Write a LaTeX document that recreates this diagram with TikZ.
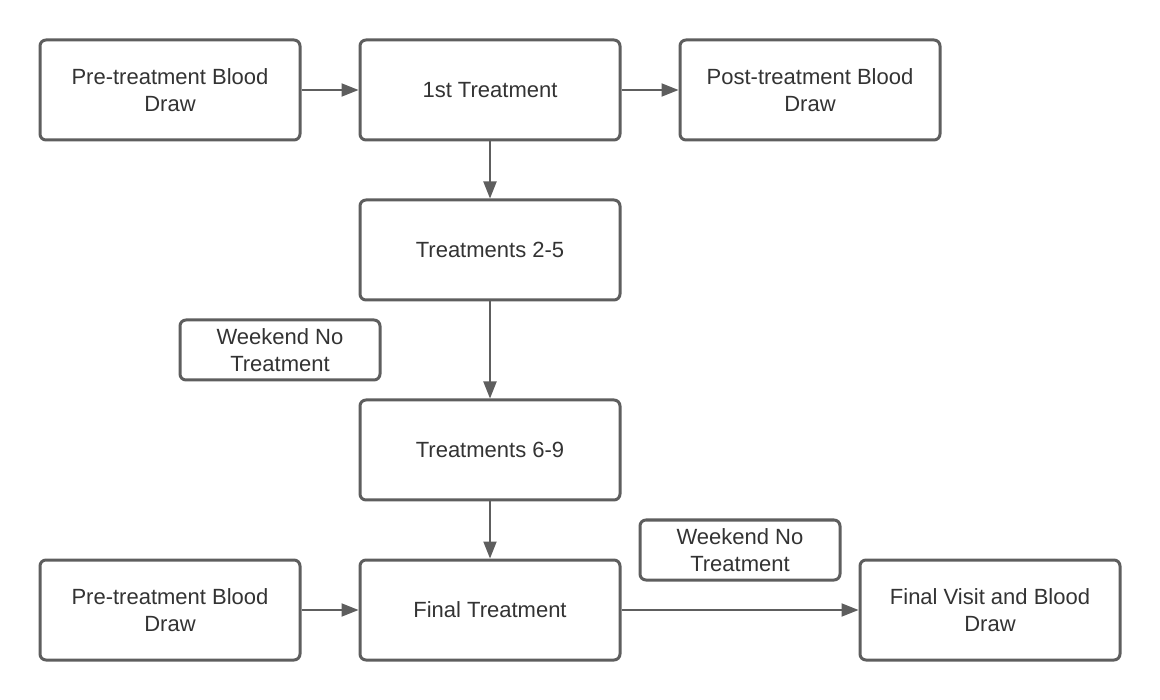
\documentclass[tikz,border=0pt]{standalone}
\usepackage{fontspec}
\setmainfont{Liberation Sans}
\usetikzlibrary{arrows.meta}
\definecolor{zline}{HTML}{5E5E5E}
\definecolor{ztext}{HTML}{333333}
\tikzset{zbox/.style={
  draw=zline,
  line width=3,
  rounded corners=6,
  fill=white,
  text=ztext,
  align=center,
  minimum width=260,
  minimum height=100,
  inner sep=0pt,
  font=\fontsize{22}{26.5}\selectfont}}
\tikzset{zsmall/.style={
  zbox,
  minimum width=200,
  minimum height=60}}
\tikzset{zarrow/.style={
  draw=zline,
  line width=2,
  -{Triangle[length=17,width=13]}}}

\begin{document}
\begin{tikzpicture}[x=1pt,y=-1pt]

  %% Canvas
  \useasboundingbox (0,0) rectangle (1160,700);

  %%%% Top row %%%%
  \node[zbox] (pre1) at (170,90) {Pre-treatment Blood\\Draw};
  \node[zbox] (first) at (490,90) {1st Treatment};
  \node[zbox] (post) at (810,90) {Post-treatment Blood\\Draw};

  %%%% Middle column %%%%
  \node[zbox] (tr25) at (490,250) {Treatments 2-5};
  \node[zsmall] (wk1) at (280,350) {Weekend No\\Treatment};
  \node[zbox] (tr69) at (490,450) {Treatments 6-9};

  %%%% Bottom row %%%%
  \node[zsmall] (wk2) at (740,550) {Weekend No\\Treatment};
  \node[zbox] (pre2) at (170,610) {Pre-treatment Blood\\Draw};
  \node[zbox] (final) at (490,610) {Final Treatment};
  \node[zbox] (visit) at (990,610) {Final Visit and Blood\\Draw};

  %% Connectors
  \draw[zarrow] (pre1) -- (first);
  \draw[zarrow] (first) -- (post);
  \draw[zarrow] (first) -- (tr25);
  \draw[zarrow] (tr25) -- (tr69);
  \draw[zarrow] (tr69) -- (final);
  \draw[zarrow] (pre2) -- (final);
  \draw[zarrow] (final) -- (visit);

\end{tikzpicture}
\end{document}
